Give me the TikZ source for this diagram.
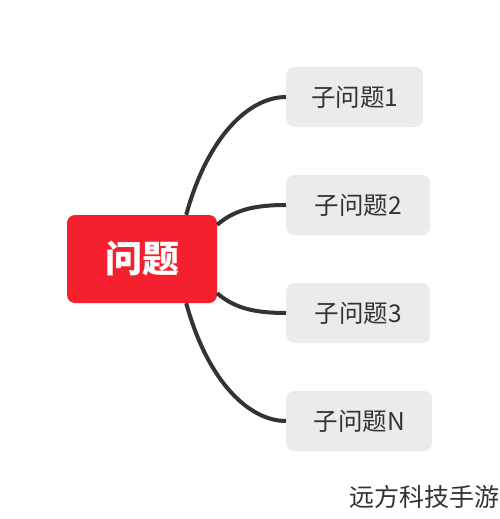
\documentclass[tikz,border=0pt]{standalone}
\usepackage{fontspec}
\newfontfamily\cjk{Noto Sans CJK SC}
\definecolor{rootred}{HTML}{F5202D}
\definecolor{subgray}{HTML}{EBEBEB}
\definecolor{branchgray}{HTML}{333333}

\begin{document}
\begin{tikzpicture}[x=1pt,y=-1pt,
    rootbox/.style={fill=rootred,rounded corners=8pt,minimum width=150pt,minimum height=88pt,
      text=white,font=\cjk\bfseries\fontsize{37pt}{37pt}\selectfont},
    subbox/.style={fill=subgray,rounded corners=8pt,minimum height=60pt,inner xsep=20pt,
      text=branchgray,anchor=west,font=\cjk\fontsize{24.5pt}{24.5pt}\selectfont},
    branch/.style={line width=4pt,draw=branchgray}]
    \useasboundingbox (0,0) rectangle (500,519);

    \node[rootbox] (q) at (142,259) {问题};
    \foreach \i/\y/\w/\t in {1/97/137/子问题1,2/205/144/子问题2,3/313/144/子问题3,n/421/146/子问题N} {
        \node[subbox,minimum width=\w pt] (s\i) at (286,\y) {\t};}

    % branches from the root
    \draw[branch] ([xshift=-31pt]q.north east) .. controls +(22pt,80pt) and +(-36pt,0pt) .. (s1.west);
    \draw[branch] ([yshift=-10pt]q.north east) .. controls +(17pt,15pt) and +(-31pt,0pt) .. (s2.west);
    \draw[branch] ([yshift=10pt]q.south east) .. controls +(17pt,-15pt) and +(-31pt,0pt) .. (s3.west);
    \draw[branch] ([xshift=-31pt]q.south east) .. controls +(22pt,-80pt) and +(-36pt,0pt) .. (sn.west);

    \node[anchor=east,inner sep=0pt,text=branchgray,font=\cjk\fontsize{25pt}{25pt}\selectfont] (mark) at (500,497) {远方科技手游};
\end{tikzpicture}
\end{document}
